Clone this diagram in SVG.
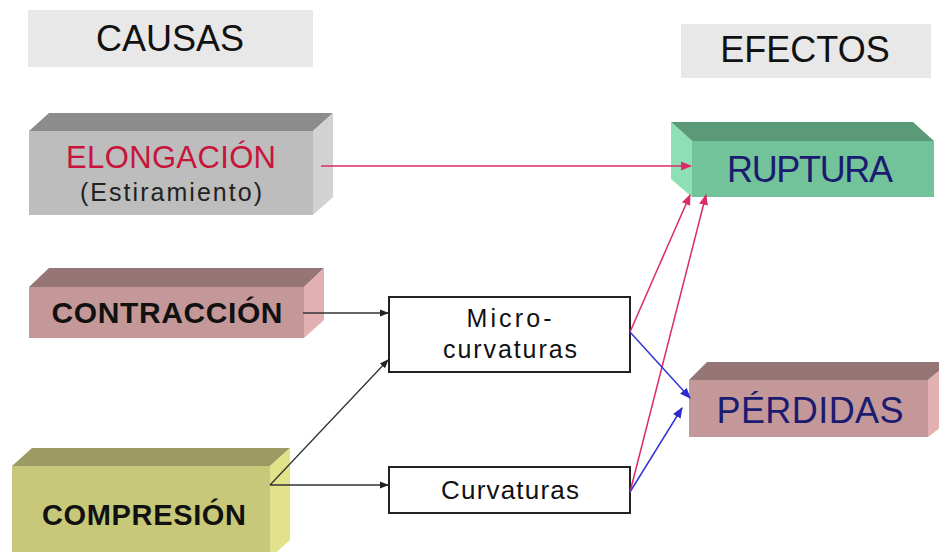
<svg xmlns="http://www.w3.org/2000/svg" width="939" height="552" viewBox="0 0 939 552">
<defs>
<style>
text{font-family:"Liberation Sans","DejaVu Sans",sans-serif;text-anchor:middle}
.hdr{font-size:36px;fill:#111}
.big{font-size:36px;fill:#1b1b70}
.cause{font-weight:bold;fill:#111}
.small{font-size:25px;fill:#111}
.box{fill:#fff;stroke:#222;stroke-width:2}
.k{stroke:#333;stroke-width:1.3;fill:none}
.p{stroke:#dc2a6c;stroke-width:1.5;fill:none}
.b{stroke:#3535d8;stroke-width:1.5;fill:none}
</style>
<marker id="ak" viewBox="0 0 10 10" refX="9" refY="5" markerWidth="9" markerHeight="9" markerUnits="userSpaceOnUse" orient="auto"><path d="M0,1 L10,5 L0,9 Z" fill="#222"/></marker>
<marker id="ap" viewBox="0 0 10 10" refX="9" refY="5" markerWidth="11" markerHeight="11" markerUnits="userSpaceOnUse" orient="auto"><path d="M0,1 L10,5 L0,9 Z" fill="#dc2a6c"/></marker>
<marker id="ab" viewBox="0 0 10 10" refX="9" refY="5" markerWidth="11" markerHeight="11" markerUnits="userSpaceOnUse" orient="auto"><path d="M0,1 L10,5 L0,9 Z" fill="#2a2ad0"/></marker>
</defs>
<rect width="939" height="552" fill="#fff"/>

<g id="causas">
<rect x="28" y="10" width="285" height="57" fill="#e8e8e8"/>
<text class="hdr" x="170" y="51">CAUSAS</text>
</g>
<g id="efectos">
<rect x="681" y="24" width="250" height="54" fill="#e8e8e8"/>
<text class="hdr" x="805" y="62">EFECTOS</text>
</g>

<g id="elongacion">
<polygon points="29,131 49,113 333,113 313,131" fill="#8c8c8c"/>
<polygon points="313,131 333,113 333,197 313,215" fill="#d2d2d2"/>
<rect x="29" y="131" width="284" height="84" fill="#bdbdbd"/>
<text x="171" y="168" style="font-size:31px;fill:#c8143c" textLength="210">ELONGACIÓN</text>
<text x="171" y="201" style="font-size:25px;fill:#222" textLength="182">(Estiramiento)</text>
</g>

<g id="contraccion">
<polygon points="29,287 49,268 324,268 304,287" fill="#957575"/>
<polygon points="304,287 324,268 324,320 304,338" fill="#e2b0b0"/>
<rect x="29" y="287" width="275" height="51" fill="#c49898"/>
<text class="cause" x="167" y="323" style="font-size:30px" textLength="231">CONTRACCIÓN</text>
</g>

<g id="compresion">
<polygon points="12,466 32,448 290,448 270,466" fill="#9c9c62"/>
<polygon points="270,466 290,448 290,540 270,558" fill="#e2e28a"/>
<rect x="12" y="466" width="258" height="90" fill="#c8c87a"/>
<text class="cause" x="144" y="525" style="font-size:29px" textLength="204">COMPRESIÓN</text>
</g>

<g id="ruptura">
<polygon points="692,141 671,122 913,122 934,141" fill="#5a9a78"/>
<polygon points="671,122 692,141 692,197 671,179" fill="#8de0b4"/>
<rect x="692" y="141" width="242" height="56" fill="#72c29a"/>
<text class="big" x="810" y="182" textLength="166">RUPTURA</text>
</g>

<g id="perdidas">
<polygon points="689,380 707,362 950,362 928,380" fill="#957575"/>
<polygon points="928,380 950,362 950,420 928,437" fill="#e2b0b0"/>
<rect x="689" y="380" width="239" height="57" fill="#c49898"/>
<text class="big" x="810" y="423" textLength="187">PÉRDIDAS</text>
</g>

<g id="micro">
<rect class="box" x="389" y="297" width="241" height="75"/>
<text class="small" x="509" y="327" textLength="85">Micro-</text>
<text class="small" x="510" y="358" textLength="134">curvaturas</text>
</g>

<g id="curvaturas">
<rect class="box" x="389" y="467" width="241" height="46"/>
<text class="small" x="510" y="499" style="font-size:26px" textLength="138">Curvaturas</text>
</g>

<g id="connectors">
<line class="p" x1="321" y1="166" x2="691" y2="166" marker-end="url(#ap)"/>
<line class="k" x1="303" y1="313" x2="388" y2="313" marker-end="url(#ak)"/>
<line class="k" x1="270" y1="485" x2="388" y2="360" marker-end="url(#ak)"/>
<line class="k" x1="270" y1="485" x2="388" y2="485" marker-end="url(#ak)"/>
<line class="p" x1="630" y1="332" x2="690" y2="195" marker-end="url(#ap)"/>
<line class="p" x1="630" y1="492" x2="706" y2="195" marker-end="url(#ap)"/>
<line class="b" x1="630" y1="332" x2="690" y2="398" marker-end="url(#ab)"/>
<line class="b" x1="630" y1="492" x2="682" y2="408" marker-end="url(#ab)"/>
</g>
</svg>
